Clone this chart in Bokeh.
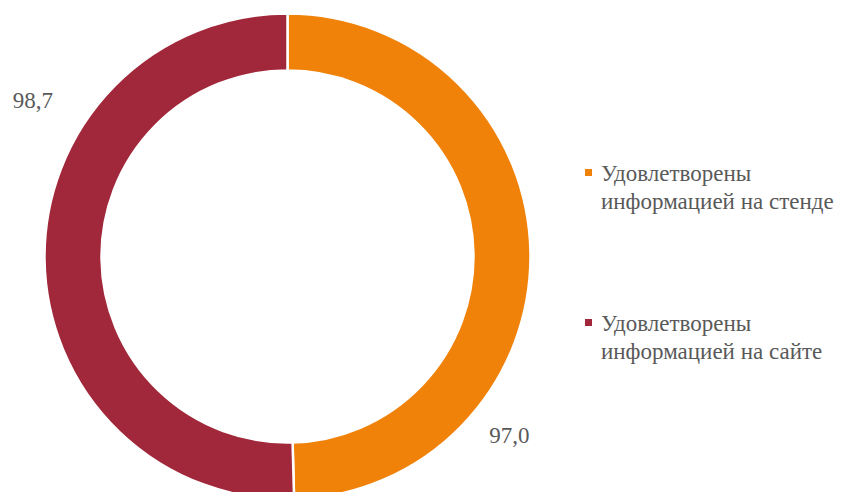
import math
from bokeh.plotting import figure
from bokeh.models import Range1d, ColumnDataSource
from bokeh.embed import file_html
from bokeh.resources import INLINE
from bokeh.core.properties import value

# ---- data ----
categories = ["Удовлетворены\nинформацией на стенде", "Удовлетворены\nинформацией на сайте"]
values = [97.0, 98.7]
value_labels = ["97,0", "98,7"]
colors = ["#F0820A", "#A1283A"]

FONT = value("'Times New Roman', 'Liberation Serif', serif")

# ---- layout (pixel-like coordinates, y up) ----
W, H = 843, 492
p = figure(width=W, height=H, output_backend="svg", toolbar_location=None,
           x_range=Range1d(0, W), y_range=Range1d(-H, 0),
           min_border=0, outline_line_color=None)
p.axis.visible = False
p.grid.visible = False
p.background_fill_color = "white"
p.border_fill_color = "white"

cx, cy = 287, -256
r_in, r_out = 186, 243

total = sum(values)
starts, ends = [], []
cur = math.pi / 2
for v in values:
    a = 2 * math.pi * v / total
    ends.append(cur)
    starts.append(cur - a)
    cur -= a

src = ColumnDataSource(dict(start=starts, end=ends, color=colors))
p.annular_wedge(x=cx, y=cy, inner_radius=r_in, outer_radius=r_out,
                start_angle="start", end_angle="end", fill_color="color",
                line_color="white", line_width=2.5, source=src)

# data labels (placed outside the ring)
label_r = [291, 294]
label_ang = [-40.3, 150.0]
lx = [cx + r * math.cos(math.radians(a)) for r, a in zip(label_r, label_ang)]
ly = [cy + r * math.sin(math.radians(a)) for r, a in zip(label_r, label_ang)]
p.text(x=lx, y=ly, text=value_labels, text_font=FONT,
       text_font_size="23px", text_color="#595959", text_align="center",
       text_baseline="alphabetic", y_offset=-9)

# legend (manual)
leg_x, leg_y0, leg_dy = 588, -172, -150
line_h = 28
mx = [leg_x for _ in categories]
my = [leg_y0 + i * leg_dy for i in range(len(categories))]
p.scatter(x=mx, y=my, marker="square", size=7, fill_color=colors, line_color=None)
tx, ty, tt = [], [], []
for i, c in enumerate(categories):
    for j, line in enumerate(c.split("\n")):
        tx.append(leg_x + 12.5)
        ty.append(my[i] - 10 - j * line_h)
        tt.append(line)
p.text(x=tx, y=ty, text=tt, text_font=FONT,
       text_font_size="23px", text_color="#595959", text_align="left",
       text_baseline="alphabetic", y_offset=-9)

open("out.html", "w").write(file_html(p, INLINE))
